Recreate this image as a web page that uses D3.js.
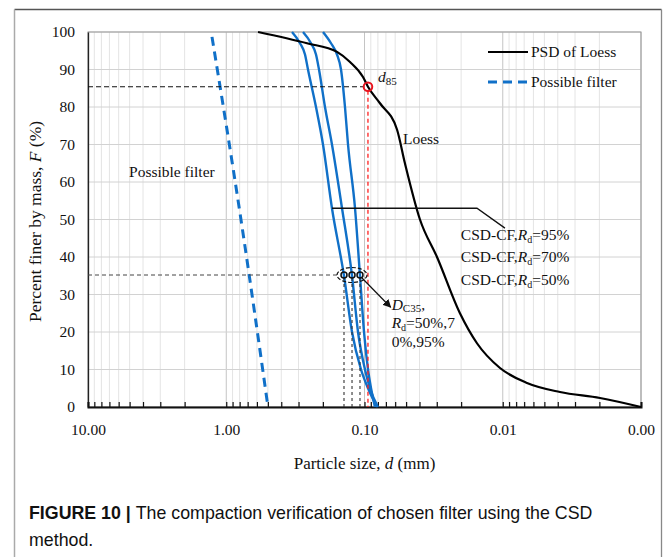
<!DOCTYPE html>
<meta charset="utf-8">
<style>
    body { margin: 0; background: #fff; }
    text { font-family: "Liberation Serif", "Times New Roman", serif; fill: #111; }
    .caption { font-family: "Liberation Sans", Arial, sans-serif; }
</style>

<body>
<script src="https://d3js.org/d3.v7.min.js"></script>
<script>

    // PSD of loess (particle size mm, percent finer)
    var psdSize  = [0.589, 0.2606, 0.158, 0.1273, 0.1025, 0.0944, 0.0773, 0.0582, 0.0510, 0.0397, 0.0299, 0.0204, 0.01536, 0.01047, 0.00668, 0.00386, 0.00198, 0.001];
    var psdFiner = [100,   97,     94.7,  92,     88,     85.4,   81,     74,     65,     50,     40,     25,     17,      10.4,    6.4,     4,       2.4,     0];

    // possible filter (dashed)
    var filterSize  = [1.268, 0.782, 0.499];
    var filterFiner = [98.7,  49.9,  0];

    // CSD-CF curves, three compaction degrees
    var csdFiner = [100, 97, 94, 90, 80, 70, 53, 35, 20, 10, 5, 0];
    var csdSizeA = [0.3345, 0.2927, 0.2694, 0.2563, 0.2243, 0.1996, 0.1719, 0.1407, 0.1231, 0.1060, 0.0943, 0.0812];
    var csdSizeB = [0.2785, 0.2438, 0.2243, 0.2134, 0.1931, 0.1719, 0.1454, 0.1231, 0.1114, 0.0992, 0.0913, 0.0799];
    var csdSizeC = [0.1996, 0.1747, 0.1581, 0.1479, 0.1384, 0.1316, 0.1171, 0.1078, 0.1008, 0.0943, 0.0897, 0.0840];

    // characteristic points
    var d85 = 0.0944, f85 = 85.4;
    var dc35 = [0.1407, 0.1231, 0.1078], fc35 = 35.2;

    var xTickValues = [10, 1, 0.1, 0.01, 0.001];
    var yTickValues = [0, 10, 20, 30, 40, 50, 60, 70, 80, 90, 100];
    var csdLabels = ["95%", "70%", "50%"];

    var W = 667, H = 557;
    var margin = { top: 32, right: 26, bottom: 150, left: 88 },
        width = W - margin.left - margin.right,
        height = H - margin.top - margin.bottom;

    var x = d3.scaleLog().domain([10, 0.001]).range([0, width]);
    var y = d3.scaleLinear().domain([0, 100]).range([height, 0]);

    var svg = d3.select("body").append("svg")
        .attr("width", W)
        .attr("height", H);

    // outer figure frame
    svg.append("line").attr("x1", 14.5).attr("x2", 661.5).attr("y1", 9.5).attr("y2", 9.5)
        .style("stroke", "#555").style("stroke-width", 1.3);
    svg.append("line").attr("x1", 14.5).attr("x2", 14.5).attr("y1", 9.5).attr("y2", H)
        .style("stroke", "#aaa").style("stroke-width", 1.5);
    svg.append("line").attr("x1", 661.5).attr("x2", 661.5).attr("y1", 9.5).attr("y2", H)
        .style("stroke", "#888").style("stroke-width", 1.3);

    var g = svg.append("g")
        .attr("transform", "translate(" + margin.left + "," + margin.top + ")");

    // grid
    var allTicks = x.ticks();
    g.selectAll(".vgrid").data(allTicks).enter().append("line")
        .attr("x1", function (d) { return x(d); })
        .attr("x2", function (d) { return x(d); })
        .attr("y1", 0).attr("y2", height)
        .style("stroke", function (d) { return xTickValues.indexOf(d) >= 0 ? "#c4c4c4" : "#e4e4e4"; })
        .style("stroke-width", 1);
    g.selectAll(".hgrid").data(yTickValues).enter().append("line")
        .attr("x1", 0).attr("x2", width)
        .attr("y1", function (d) { return y(d); })
        .attr("y2", function (d) { return y(d); })
        .style("stroke", "#d2d2d2").style("stroke-width", 1);

    // plot box
    g.append("rect").attr("width", width).attr("height", height)
        .style("fill", "none").style("stroke", "#999").style("stroke-width", 1);

    // axes
    var yAxis = g.append("g")
        .call(d3.axisLeft(y).tickValues(yTickValues).tickSize(0).tickPadding(13));
    yAxis.select(".domain").style("stroke", "#222").style("stroke-width", 1.3);
    yAxis.selectAll("text").style("font-family", "Liberation Serif").style("font-size", "15.5px");

    var xAxis = g.append("g")
        .attr("transform", "translate(0," + height + ")")
        .call(d3.axisBottom(x).tickValues(allTicks).tickSize(-5).tickFormat(function (d) {
            return xTickValues.indexOf(d) >= 0 ? d3.format(".2f")(d) : "";
        }).tickPadding(17));
    xAxis.select(".domain").style("stroke", "#111").style("stroke-width", 2);
    xAxis.selectAll("line").style("stroke", "#111").style("stroke-width", 1.2);
    xAxis.selectAll("text").style("font-family", "Liberation Serif").style("font-size", "15.5px");

    // line builders
    function lineOf(sizes, finers) {
        var pts = sizes.map(function (s, i) { return [x(s), y(finers[i])]; });
        return d3.line().curve(d3.curveMonotoneX)(pts);
    }

    // possible filter
    g.append("path")
        .attr("d", lineOf(filterSize, filterFiner))
        .style("fill", "none").style("stroke", "#1070c8").style("stroke-width", 3)
        .style("stroke-dasharray", "9,6");

    // CSD curves
    [csdSizeA, csdSizeB, csdSizeC].forEach(function (s) {
        g.append("path")
            .attr("d", lineOf(s, csdFiner))
            .style("fill", "none").style("stroke", "#1070c8").style("stroke-width", 2.4);
    });

    // PSD of loess
    g.append("path")
        .attr("d", lineOf(psdSize, psdFiner))
        .style("fill", "none").style("stroke", "#000").style("stroke-width", 2.2);

    // d85 guides
    g.append("line").attr("x1", 0).attr("x2", x(d85) - 4)
        .attr("y1", y(f85)).attr("y2", y(f85))
        .style("stroke", "#111").style("stroke-width", 1.2).style("stroke-dasharray", "5,3");
    g.append("line").attr("x1", x(d85)).attr("x2", x(d85))
        .attr("y1", y(f85) + 4).attr("y2", height)
        .style("stroke", "#ff2020").style("stroke-width", 1.3).style("stroke-dasharray", "4,3");
    g.append("circle").attr("cx", x(d85)).attr("cy", y(f85)).attr("r", 4.3)
        .style("fill", "none").style("stroke", "#e8141e").style("stroke-width", 2);

    // Dc35 guides
    g.append("line").attr("x1", 0).attr("x2", x(dc35[0]) - 6)
        .attr("y1", y(fc35)).attr("y2", y(fc35))
        .style("stroke", "#444").style("stroke-width", 1).style("stroke-dasharray", "4,3");
    g.selectAll(".dcv").data(dc35).enter().append("line")
        .attr("x1", function (d) { return x(d); }).attr("x2", function (d) { return x(d); })
        .attr("y1", y(fc35) + 3).attr("y2", height)
        .style("stroke", "#333").style("stroke-width", 1.1).style("stroke-dasharray", "3,3");
    g.selectAll(".dcc").data(dc35).enter().append("circle")
        .attr("cx", function (d) { return x(d); }).attr("cy", y(fc35)).attr("r", 3)
        .style("fill", "none").style("stroke", "#111").style("stroke-width", 1.5);
    g.append("ellipse").attr("cx", x(dc35[1])).attr("cy", y(fc35)).attr("rx", 15).attr("ry", 7.5)
        .style("fill", "none").style("stroke", "#111").style("stroke-width", 1.2).style("stroke-dasharray", "4,2");

    // arrow to Dc35 text
    svg.append("defs").append("marker")
        .attr("id", "arr").attr("viewBox", "0 0 10 10").attr("refX", 9).attr("refY", 5)
        .attr("markerWidth", 7).attr("markerHeight", 7).attr("orient", "auto")
        .append("path").attr("d", "M0,0L10,5L0,10z").style("fill", "#111");
    g.append("line")
        .attr("x1", x(dc35[2]) + 2).attr("y1", y(fc35) + 3)
        .attr("x2", x(0.0647)).attr("y2", y(26.6))
        .style("stroke", "#111").style("stroke-width", 1.2).attr("marker-end", "url(#arr)");

    // leader to CSD labels
    g.append("path")
        .attr("d", d3.line()([[x(0.1719), y(53)], [x(0.01536), y(53)], [x(0.00964), y(47.7)]]))
        .style("fill", "none").style("stroke", "#111").style("stroke-width", 1.3);

    // text annotations
    var t85 = g.append("text").attr("x", x(d85) + 10).attr("y", y(f85) - 5).style("font-size", "15.5px");
    t85.append("tspan").style("font-style", "italic").text("d");
    t85.append("tspan").attr("dy", 3).style("font-size", "11px").text("85");

    g.append("text").attr("x", x(0.0527)).attr("y", y(70.1)).style("font-size", "15.5px").text("Loess");
    g.append("text").attr("x", x(5.05)).attr("y", y(61.3)).style("font-size", "15.5px").text("Possible filter");

    csdLabels.forEach(function (lab, i) {
        var t = g.append("text").attr("x", x(0.0201)).attr("y", y(44.6) + i * 22.5).style("font-size", "15.5px");
        t.append("tspan").text("CSD-CF,");
        t.append("tspan").style("font-style", "italic").text("R");
        t.append("tspan").attr("dy", 3).style("font-size", "10px").text("d");
        t.append("tspan").attr("dy", -3).text("=" + lab);
    });

    var dcx = x(0.0647) + 1;
    var t1 = g.append("text").attr("x", dcx).attr("y", y(26)).style("font-size", "15.5px");
    t1.append("tspan").style("font-style", "italic").text("D");
    t1.append("tspan").attr("dy", 2).style("font-size", "11px").text("C35");
    t1.append("tspan").attr("dy", -2).text(",");
    var t2 = g.append("text").attr("x", dcx).attr("y", y(21)).style("font-size", "15.5px");
    t2.append("tspan").style("font-style", "italic").text("R");
    t2.append("tspan").attr("dy", 3).style("font-size", "10px").text("d");
    t2.append("tspan").attr("dy", -3).text("=50%,7");
    g.append("text").attr("x", dcx).attr("y", y(16)).style("font-size", "15.5px").text("0%,95%");

    // legend
    var leg = g.append("g").attr("transform", "translate(" + (488 - margin.left) + "," + (52 - margin.top) + ")");
    leg.append("line").attr("x1", 0).attr("x2", 40).attr("y1", 0).attr("y2", 0)
        .style("stroke", "#000").style("stroke-width", 2.2);
    leg.append("text").attr("x", 43).attr("y", 5).style("font-size", "15.5px").text("PSD of Loess");
    leg.append("line").attr("x1", 0).attr("x2", 40).attr("y1", 30).attr("y2", 30)
        .style("stroke", "#1070c8").style("stroke-width", 3).style("stroke-dasharray", "9,6");
    leg.append("text").attr("x", 43).attr("y", 35).style("font-size", "15.5px").text("Possible filter");

    // axis titles
    var yt = svg.append("text")
        .attr("transform", "translate(41," + (margin.top + height / 2 + 2) + ") rotate(-90)")
        .attr("text-anchor", "middle").style("font-size", "17.5px");
    yt.append("tspan").text("Percent finer by mass, ");
    yt.append("tspan").style("font-style", "italic").text("F");
    yt.append("tspan").text(" (%)");

    var xt = svg.append("text")
        .attr("x", margin.left + width / 2).attr("y", 469)
        .attr("text-anchor", "middle").style("font-size", "17px");
    xt.append("tspan").text("Particle size, ");
    xt.append("tspan").style("font-style", "italic").text("d");
    xt.append("tspan").text(" (mm)");

    // caption
    var cap = svg.append("text").attr("class", "caption").attr("x", 29).attr("y", 519)
        .style("font-size", "17.8px");
    cap.append("tspan").style("font-weight", "bold").text("FIGURE 10 | ");
    cap.append("tspan").text("The compaction verification of chosen filter using the CSD");
    svg.append("text").attr("class", "caption").attr("x", 29).attr("y", 546)
        .style("font-size", "17.8px").text("method.");

</script>
</body>
